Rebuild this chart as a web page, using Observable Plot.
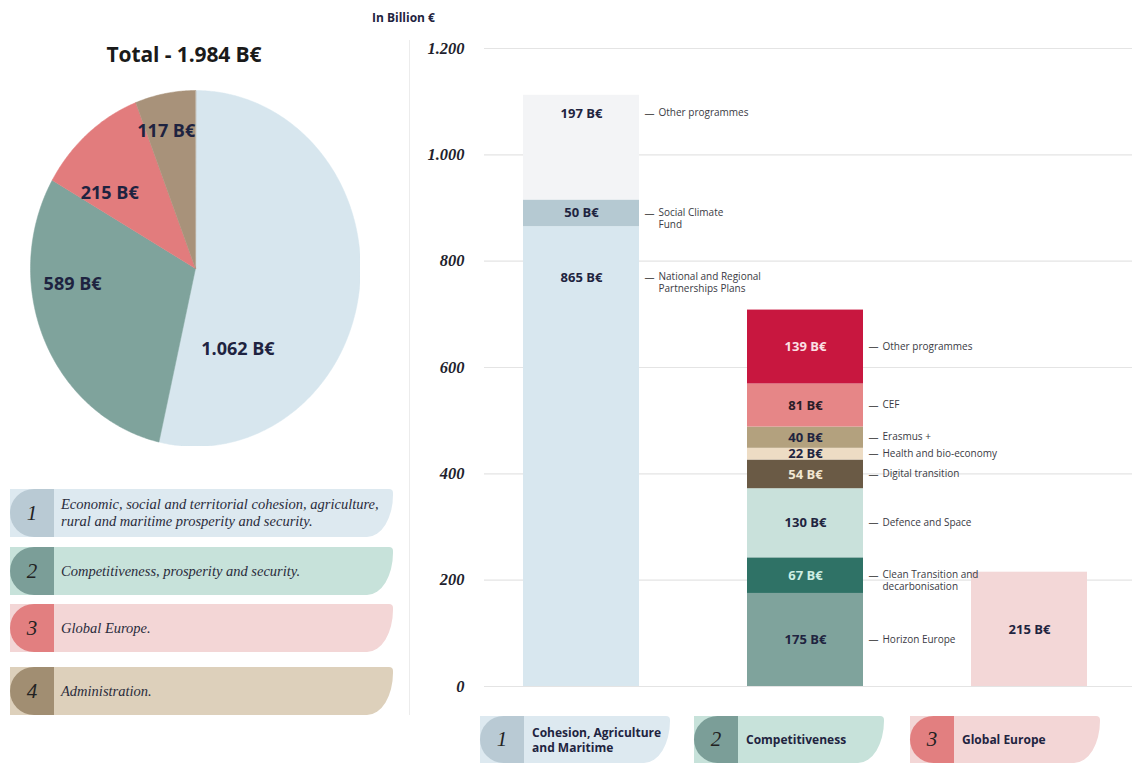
<!DOCTYPE html>
<html>
<head>
<meta charset="utf-8">
<script src="https://cdn.jsdelivr.net/npm/d3@7"></script>
<script src="https://cdn.jsdelivr.net/npm/@observablehq/plot@0.6"></script>
<style>
  html, body { margin: 0; padding: 0; background: #ffffff; }
  body { width: 1137px; height: 767px; position: relative; overflow: hidden; font-family: "Open Sans", "Noto Sans", sans-serif; }
  .abs { position: absolute; }
  #pieTitle { left: 64px; width: 240px; top: 40px; text-align: center; font-weight: 700; font-size: 21px; color: #1a1a1a; letter-spacing: -0.1px; }
  #unit { left: 372px; top: 9px; font-weight: 700; font-size: 12px; color: #1f2440; }
  #divider { left: 409px; top: 40px; width: 1px; height: 675px; background: #ececec; }
  .pill { position: absolute; display: flex; align-items: center; box-sizing: border-box; border-radius: 0 4px 26px 0 / 0 4px 42px 0; }
  .tab { height: 100%; display: flex; align-items: center; justify-content: center; border-radius: 24px 0 0 24px / 24px 0 0 24px; font-family: "Liberation Serif", serif; font-style: italic; font-size: 21px; color: #222; flex: none; }
  .lgtext { font-family: "Liberation Serif", serif; font-style: italic; font-size: 14.5px; line-height: 17px; color: #2a2c3c; white-space: pre-line; padding-left: 7px; }
  .cattext { font-family: "Open Sans", sans-serif; font-weight: 700; font-size: 12px; line-height: 15px; color: #1f2440; white-space: pre-line; padding-left: 8px; }
</style>
</head>
<body>
<div id="pieTitle" class="abs"></div>
<div id="pie" class="abs" style="left:30px; top:90px;"></div>
<div id="legend"></div>
<div id="divider" class="abs"></div>
<div id="unit" class="abs">In Billion €</div>
<div id="bars" class="abs" style="left:415px; top:30px;"></div>
<div id="catPills"></div>
<script>
// ---------- DATA ----------
const pieTitle = "Total - 1.984 B€";
const pieValues = [1062, 589, 215, 117];
const pieLabels = ["1.062 B€", "589 B€", "215 B€", "117 B€"];
const pieColors = ["#d7e6ee", "#7fa39c", "#e27c7d", "#a8927a"];

const legendNumbers = ["1", "2", "3", "4"];
const legendTexts = [
  "Economic, social and territorial cohesion, agriculture,\nrural and maritime prosperity and security.",
  "Competitiveness, prosperity and security.",
  "Global Europe.",
  "Administration."
];
const legendDark = ["#b9cad4", "#7b9e98", "#e27f80", "#a18e72"];
const legendLight = ["#dde9f0", "#c7e2da", "#f3d6d6", "#ddd0bb"];

const categories = ["1", "2", "3"];
const categoryNames = ["Cohesion, Agriculture\nand Maritime", "Competitiveness", "Global Europe"];

const segCategory = ["1", "1", "1", "2", "2", "2", "2", "2", "2", "2", "2", "3"];
const segValue = [865, 50, 197, 175, 67, 130, 54, 22, 40, 81, 139, 215];
const segName = [
  "National and Regional\nPartnerships Plans", "Social Climate\nFund", "Other programmes",
  "Horizon Europe", "Clean Transition and\ndecarbonisation", "Defence and Space", "Digital transition",
  "Health and bio-economy", "Erasmus +", "CEF", "Other programmes", ""
];
const segColor = ["#d8e7ef", "#b5c9d2", "#f3f4f6", "#7fa39c", "#2f7266", "#c9e1db", "#6a5a45", "#eddcc4", "#b3a17e", "#e68687", "#c8173f", "#f3d7d7"];
const segTextColor = ["#1f2440", "#1f2440", "#1f2440", "#1f2440", "#cdeee3", "#1f2440", "#f2e8d2", "#1f2440", "#1f2440", "#2a1c28", "#fbe0e4", "#1f2440"];

const yTicks = [0, 200, 400, 600, 800, 1000, 1200];

// ---------- PIE ----------
document.getElementById("pieTitle").textContent = pieTitle;
const arcs = d3.pie().sort(null)(pieValues);
const slicePts = arcs.map((a) => {
  const pts = [{x: 0, y: 0}];
  const n = Math.max(2, Math.ceil((a.endAngle - a.startAngle) / 0.01));
  for (let k = 0; k <= n; k++) {
    const t = a.startAngle + (a.endAngle - a.startAngle) * k / n;
    pts.push({x: Math.sin(t), y: Math.cos(t)});
  }
  return pts;
});
// label placement within each slice (fraction of the angular span, radius)
const pieLabelFrac = [0.78, 0.66, 0.24, 0.39];
const pieLabelRadius = [0.52, 0.75, 0.67, 0.79];
const pieLabelData = arcs.map((a, i) => {
  const t = a.startAngle + (a.endAngle - a.startAngle) * pieLabelFrac[i];
  return {x: pieLabelRadius[i] * Math.sin(t), y: pieLabelRadius[i] * Math.cos(t), label: pieLabels[i]};
});
const pie = Plot.plot({
  width: 330, height: 356, margin: 0,
  x: {domain: [-1, 1], axis: null},
  y: {domain: [-1, 1], axis: null},
  style: {background: "transparent", fontFamily: "'Open Sans', sans-serif"},
  marks: [
    ...slicePts.map((pts, i) => Plot.line(pts, {x: "x", y: "y", fill: pieColors[i], stroke: pieColors[i], strokeWidth: 0.5, curve: "linear-closed"})),
    Plot.text(pieLabelData, {x: "x", y: "y", text: "label", fontSize: 18, fontWeight: 700, fill: "#1e2340"})
  ]
});
document.getElementById("pie").appendChild(pie);

// ---------- LEGEND ----------
const legendTops = [489, 547, 604, 667];
const legend = document.getElementById("legend");
legendTexts.forEach((t, i) => {
  const row = document.createElement("div");
  row.className = "pill";
  row.style.cssText = `left:10px; top:${legendTops[i]}px; width:383px; height:48px; background:${legendLight[i]};`;
  const tab = document.createElement("div");
  tab.className = "tab";
  tab.style.cssText = `width:44px; background:${legendDark[i]};`;
  tab.textContent = legendNumbers[i];
  const tx = document.createElement("div");
  tx.className = "lgtext";
  tx.textContent = t;
  row.appendChild(tab); row.appendChild(tx);
  legend.appendChild(row);
});

// ---------- STACKED BARS ----------
const segs = [];
const cum = {};
segValue.forEach((v, i) => {
  const c = segCategory[i];
  const y1 = cum[c] || 0;
  const y2 = y1 + v;
  cum[c] = y2;
  let ly = (y1 + y2) / 2;
  if (c === "1" && v > 100) ly = y2 - (v > 500 ? 96 : 34); // tall cohesion blocks carry label near their top
  segs.push({cat: c, value: v, y1, y2, ly, name: segName[i], color: segColor[i], tcolor: segTextColor[i], label: `${v} B€`});
});
const named = segs.filter(d => d.name);
const fmt = d => d3.format(",")(d).replace(/,/g, ".");

const bars = Plot.plot({
  width: 722, height: 666,
  marginTop: 18, marginBottom: 10, marginLeft: 69, marginRight: 5,
  x: {domain: categories, range: [0, 780], paddingInner: 0.48, paddingOuter: 0.48, axis: null},
  y: {domain: [0, 1200], axis: null},
  color: {type: "identity"},
  style: {background: "transparent", fontFamily: "'Open Sans', sans-serif", overflow: "visible"},
  marks: [
    Plot.gridY(yTicks, {stroke: "#e4e4e4", strokeOpacity: 1, strokeWidth: 1.2}),
    Plot.text(yTicks, {y: d => d, text: fmt, frameAnchor: "left", dx: -20, textAnchor: "end", fontSize: 16.5, fontFamily: "'Liberation Serif', serif", fontStyle: "italic", fontWeight: 700, fill: "#1f1f2e"}),
    Plot.barY(segs, {x: "cat", y1: "y1", y2: "y2", fill: "color"}),
    Plot.text(segs, {x: "cat", y: "ly", text: "label", fill: "tcolor", fontSize: 13, fontWeight: 700}),
    Plot.text(named, {x: "cat", y: "ly", text: () => "—", dx: 63, textAnchor: "start", fontSize: 10, fill: "#555"}),
    Plot.text(named, {x: "cat", y: "ly", text: "name", dx: 77, dy: -6, textAnchor: "start", lineAnchor: "top", lineHeight: 1.2, fontSize: 10, fill: "#3a3a44"})
  ]
});
document.getElementById("bars").appendChild(bars);

// ---------- CATEGORY PILLS ----------
const pillLefts = [480, 694, 910];
const pillWrap = document.getElementById("catPills");
categoryNames.forEach((name, i) => {
  const row = document.createElement("div");
  row.className = "pill";
  row.style.cssText = `left:${pillLefts[i]}px; top:716px; width:190px; height:47px; background:${legendLight[i]};`;
  const tab = document.createElement("div");
  tab.className = "tab";
  tab.style.cssText = `width:44px; background:${legendDark[i]};`;
  tab.textContent = categories[i];
  const tx = document.createElement("div");
  tx.className = "cattext";
  tx.textContent = name;
  row.appendChild(tab); row.appendChild(tx);
  pillWrap.appendChild(row);
});
</script>
</body>
</html>
